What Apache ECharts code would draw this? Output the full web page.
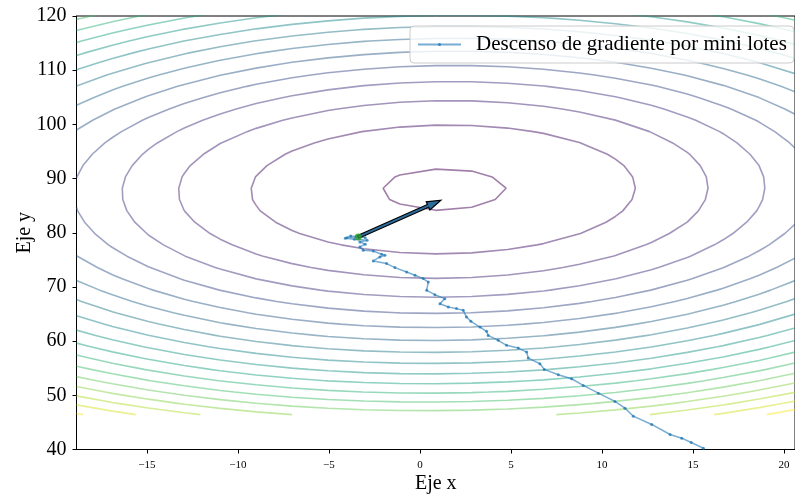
<!DOCTYPE html>
<html>
<head>
<meta charset="utf-8">
<script src="https://cdn.jsdelivr.net/npm/echarts@6/dist/echarts.min.js"></script>
<style>
  html, body { margin: 0; padding: 0; background: #fff; }
  #chart { width: 795px; height: 496px; }
</style>
</head>
<body>
<div id="chart"></div>
<script>
// Axis ranges and tick labels
const xRange = [-18.86, 20.6];
const yRange = [40, 120];
const xTicks = [-15, -10, -5, 0, 5, 10, 15, 20];
const yTicks = [40, 50, 60, 70, 80, 90, 100, 110, 120];

// Quadratic cost surface: f = (x-cx)^2 + cxy*(x-cx)(y-cy) + cyy*(y-cy)^2
const costCenter = [1.29, 88.0];
const costCrossTerm = -0.049;
const costYWeight = 0.787;
// Evaluation grid of the surface (coarse, as in the original contour plot)
const gridX = [-18.86, 20.6, 21];
const gridY = [46.43, 130.0, 41];
// Contour levels of the cost
const contourLevels = [12, 112, 212, 312, 412, 512, 612, 712, 812, 912, 1012, 1112, 1212, 1312, 1412, 1512, 1612, 1712];

// Mini-batch gradient descent trajectory
const pathName = 'Descenso de gradiente por mini lotes';
const pathX = [15.57, 14.9, 14.38, 13.74, 12.73, 11.72, 11.26, 10.71, 9.80, 8.97, 8.33, 7.60, 6.83, 6.59, 5.95, 5.86, 5.40, 4.76, 4.30, 3.75, 3.66, 3.30, 2.80, 2.56, 2.38, 2.01, 1.56, 1.10, 1.37, 0.82, 0.37, 0.46, 0.18, -0.27, -0.73, -1.37, -1.83, -2.56, -2.20, -1.92, -2.10, -2.56, -3.11, -3.30, -3.0, -3.3, -2.9, -3.6, -4.1, -3.5, -3.0, -3.8, -4.0, -3.4];
const pathY = [40.24, 41.3, 42.09, 42.77, 44.62, 46.15, 47.63, 48.87, 50.40, 51.82, 53.06, 53.80, 54.78, 55.83, 56.87, 57.98, 58.72, 59.22, 60.14, 61.06, 61.80, 62.60, 63.65, 64.44, 65.68, 66.00, 66.29, 66.91, 67.84, 68.57, 69.37, 70.91, 71.54, 72.15, 72.76, 73.57, 74.31, 74.79, 75.53, 75.84, 76.03, 76.64, 76.77, 77.38, 77.9, 78.3, 78.6, 78.8, 79.0, 79.3, 79.1, 79.4, 79.1, 79.23];

// Final point and direction arrow
const finalPoint = [-3.39, 79.23];
const arrowEnd = [1.15, 86.0];

const serif = "'Liberation Serif', 'Times New Roman', serif";

function cost(x, y) {
  const dx = x - costCenter[0], dy = y - costCenter[1];
  return dx * dx + costCrossTerm * dx * dy + costYWeight * dy * dy;
}

function linspace(a, b, n) {
  const out = [];
  for (let i = 0; i < n; i++) out.push(a + (b - a) * i / (n - 1));
  return out;
}

// Marching squares on the grid, joined into polylines
function contourLines(xs, ys, Z, L) {
  const pts = {}, adj = {};
  function addPt(key, xa, ya, va, xb, yb, vb) {
    if (!pts[key]) {
      const t = (L - va) / (vb - va);
      pts[key] = [xa + (xb - xa) * t, ya + (yb - ya) * t];
      adj[key] = [];
    }
    return key;
  }
  function link(a, b) { adj[a].push(b); adj[b].push(a); }
  for (let i = 0; i < xs.length - 1; i++) {
    for (let j = 0; j < ys.length - 1; j++) {
      const v00 = Z[i][j], v10 = Z[i + 1][j], v11 = Z[i + 1][j + 1], v01 = Z[i][j + 1];
      const x0 = xs[i], x1 = xs[i + 1], y0 = ys[j], y1 = ys[j + 1];
      const c = [];
      if ((v00 < L) !== (v10 < L)) c.push(addPt('H' + i + '_' + j, x0, y0, v00, x1, y0, v10));
      if ((v10 < L) !== (v11 < L)) c.push(addPt('V' + (i + 1) + '_' + j, x1, y0, v10, x1, y1, v11));
      if ((v01 < L) !== (v11 < L)) c.push(addPt('H' + i + '_' + (j + 1), x0, y1, v01, x1, y1, v11));
      if ((v00 < L) !== (v01 < L)) c.push(addPt('V' + i + '_' + j, x0, y0, v00, x0, y1, v01));
      if (c.length === 2) link(c[0], c[1]);
      else if (c.length === 4) { link(c[0], c[1]); link(c[2], c[3]); }
    }
  }
  const keys = Object.keys(adj);
  const starts = keys.filter(k => adj[k].length === 1).concat(keys);
  const seen = new Set();
  const lines = [];
  for (const s of starts) {
    if (seen.has(s)) continue;
    seen.add(s);
    const line = [pts[s]];
    let cur = s, prev = null;
    while (true) {
      const next = adj[cur].find(n => n !== prev && !seen.has(n));
      if (!next) {
        if (line.length > 2 && adj[cur].indexOf(s) >= 0) line.push(pts[s]);
        break;
      }
      seen.add(next);
      line.push(pts[next]);
      prev = cur; cur = next;
    }
    lines.push(line);
  }
  return lines;
}

// Viridis colour ramp
const viridis = ['#440154', '#482475', '#414487', '#355f8d', '#2a788e', '#21918c', '#22a884', '#44bf70', '#7ad151', '#bddf26', '#fde725'];
function viridisAt(t) {
  const p = Math.max(0, Math.min(1, t)) * (viridis.length - 1);
  const i = Math.min(Math.floor(p), viridis.length - 2);
  const f = p - i;
  const a = viridis[i], b = viridis[i + 1];
  const ch = (h, k) => parseInt(h.substr(1 + 2 * k, 2), 16);
  const rgb = [0, 1, 2].map(k => Math.round(ch(a, k) + (ch(b, k) - ch(a, k)) * f));
  return 'rgba(' + rgb.join(',') + ',0.5)';
}

const xs = linspace(gridX[0], gridX[1], gridX[2]);
const ys = linspace(gridY[0], gridY[1], gridY[2]);
const Z = xs.map(x => ys.map(y => cost(x, y)));

const series = [];
contourLevels.forEach((L, k) => {
  const color = viridisAt(k / (contourLevels.length - 1));
  contourLines(xs, ys, Z, L).forEach(line => {
    series.push({
      type: 'line',
      data: line,
      symbol: 'none',
      silent: true,
      z: 1,
      lineStyle: { color: color, width: 1.6 },
      animation: false
    });
  });
});

series.push({
  type: 'line',
  name: pathName,
  data: pathX.map((x, i) => [x, pathY[i]]),
  symbol: 'circle',
  symbolSize: 3,
  showSymbol: true,
  z: 3,
  itemStyle: { color: 'rgba(31,119,180,0.75)', borderWidth: 0 },
  lineStyle: { color: 'rgba(31,119,180,0.6)', width: 1.5 },
  animation: false
});

series.push({
  type: 'custom',
  z: 4,
  silent: true,
  data: [[finalPoint[0], finalPoint[1], arrowEnd[0], arrowEnd[1]]],
  renderItem: function (params, api) {
    const p0 = api.coord([api.value(0), api.value(1)]);
    const p1 = api.coord([api.value(2), api.value(3)]);
    const dx = p1[0] - p0[0], dy = p1[1] - p0[1];
    const len = Math.hypot(dx, dy);
    const ux = dx / len, uy = dy / len, nx = -uy, ny = ux;
    const hw = 1.5, hl = 14, hh = 4.5;
    const b = [p1[0] - ux * hl, p1[1] - uy * hl];
    const points = [
      [p0[0] + nx * hw, p0[1] + ny * hw],
      [b[0] + nx * hw, b[1] + ny * hw],
      [b[0] + nx * hh, b[1] + ny * hh],
      p1,
      [b[0] - nx * hh, b[1] - ny * hh],
      [b[0] - nx * hw, b[1] - ny * hw],
      [p0[0] - nx * hw, p0[1] - ny * hw]
    ];
    return { type: 'polygon', shape: { points: points }, style: { fill: '#2b6d9c', stroke: '#000', lineWidth: 1.2 } };
  },
  animation: false
});

series.push({
  type: 'scatter',
  data: [finalPoint],
  symbolSize: 7,
  z: 5,
  silent: true,
  itemStyle: { color: '#2ca02c' },
  animation: false
});

const chart = echarts.init(document.getElementById('chart'), null, { renderer: 'canvas' });
chart.setOption({
  animation: false,
  backgroundColor: '#fff',
  grid: {
    left: 76.5, right: 0, top: 16, bottom: 46.5,
    containLabel: false, outerBoundsMode: 'none',
    show: true, borderColor: '#000', borderWidth: 1
  },
  legend: {
    data: [pathName],
    left: 410,
    top: 26,
    padding: [8, 7, 8, 7],
    itemWidth: 43,
    itemHeight: 4,
    backgroundColor: 'rgba(255,255,255,0.8)',
    borderColor: '#cccccc',
    borderWidth: 1,
    borderRadius: 4,
    textStyle: { fontFamily: serif, fontSize: 21, color: '#000', padding: [0, 0, 0, 10] }
  },
  xAxis: {
    type: 'value',
    min: xRange[0],
    max: xRange[1],
    name: 'Eje x',
    nameLocation: 'middle',
    nameGap: 24,
    nameMoveOverlap: false,
    nameTextStyle: { fontFamily: serif, fontSize: 20, color: '#000' },
    axisLine: { show: true, onZero: false, lineStyle: { color: '#000', width: 1 } },
    axisTick: { show: true, length: 4, customValues: xTicks, lineStyle: { color: '#000' } },
    axisLabel: {
      customValues: xTicks,
      fontFamily: serif, fontSize: 11, color: '#000', margin: 10,
      formatter: v => (v < 0 ? '\u2212' + Math.abs(v) : String(v))
    },
    splitLine: { show: false }
  },
  yAxis: {
    type: 'value',
    min: yRange[0],
    max: yRange[1],
    interval: 10,
    name: 'Eje y',
    nameLocation: 'middle',
    nameGap: 42,
    nameMoveOverlap: false,
    nameTextStyle: { fontFamily: serif, fontSize: 20, color: '#000' },
    axisLine: { show: true, onZero: false, lineStyle: { color: '#000', width: 1 } },
    axisTick: { show: true, length: 4, lineStyle: { color: '#000' } },
    axisLabel: {
      fontFamily: serif, fontSize: 20, color: '#000', margin: 10,
      formatter: v => (yTicks.indexOf(v) >= 0 ? String(v) : '')
    },
    splitLine: { show: false }
  },
  series: series
});
</script>
</body>
</html>
